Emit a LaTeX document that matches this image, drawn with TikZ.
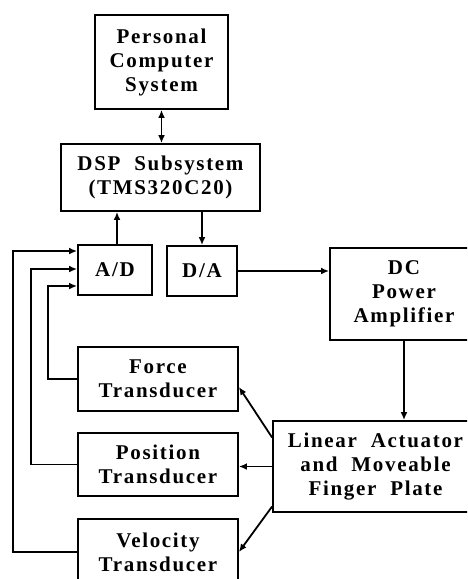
\documentclass[tikz,border=0pt]{standalone}
\usepackage{fontspec}
\setmainfont{Liberation Serif}[LetterSpace=8, WordSpace=2]
\usetikzlibrary{arrows.meta, calc}

\begin{document}
\begin{tikzpicture}[
x = 0.5pt, y = -0.5pt,
line width = 0.9pt,
  >={Latex[length=4pt,width=3.4pt]},
 block/.style = {draw, align=center, inner sep=0pt,
                 font=\fontsize{10.5}{12}\selectfont\bfseries},
  feed/.style = {->}
                    ]
\useasboundingbox (0,0) rectangle (467,579);
\clip (0,0) rectangle (467,579);

\node[block, minimum width=66.5pt, minimum height=47pt] (pc) at (161.5,62)
     {Personal\\ Computer\\ System};
\node[block, minimum width=99.5pt, minimum height=33.5pt] (dsp) at (160.5,177.5)
     {DSP Subsystem\\ (TMS320C20)};
\node[block, minimum width=37pt, minimum height=25pt] (ad) at (115,270) {A/D};
\node[block, minimum width=35pt, minimum height=25pt] (da) at (202,271) {D/A};
\node[block, minimum width=74pt, minimum height=46pt] (amp) at (404,294)
     {DC\\ Power\\ Amplifier};
\node[block, minimum width=102.5pt, minimum height=45.5pt] (act) at (375.5,466.5)
     {Linear Actuator\\ and Moveable\\ Finger Plate};
\node[block, minimum width=80pt, minimum height=32pt] (force) at (158,379)
     {Force\\ Transducer};
\node[block, minimum width=80pt, minimum height=31.5pt] (pos) at (158,464.5)
     {Position\\ Transducer};
\node[block, minimum width=80pt, minimum height=33pt] (vel) at (158,552)
     {Velocity\\ Transducer};

\coordinate (adup) at ($(ad.north)+(2,0)$);

% signal path
\draw[<->] (pc.south) -- (pc.south |- dsp.north);
\draw[->]  (adup) -- (adup |- dsp.south);
\draw[->]  (dsp.south -| da.north) -- (da.north);
\draw[->]  (da.east) -- (da.east -| amp.west);
\draw[->]  (amp.south) -- (amp.south |- act.north);

% actuator to transducers
\draw[->] ($(act.west)+(0,-29)$) -- ($(force.east)+(0,8)$);
\draw[->] (act.west) -- (act.west -| pos.east);
\draw[->] ($(act.west)+(0,40)$) -- (vel.east);

% feedback to A/D
\draw[feed] (force.west) -- ++(-29,0) |- ($(ad.west)+(0,16)$);
\draw[feed] (pos.west)   -- ++(-46,0) |- ($(ad.west)+(0,-1)$);
\draw[feed] (vel.west)   -- ++(-64,0) |- ($(ad.west)+(0,-19)$);
\end{tikzpicture}
\end{document}
